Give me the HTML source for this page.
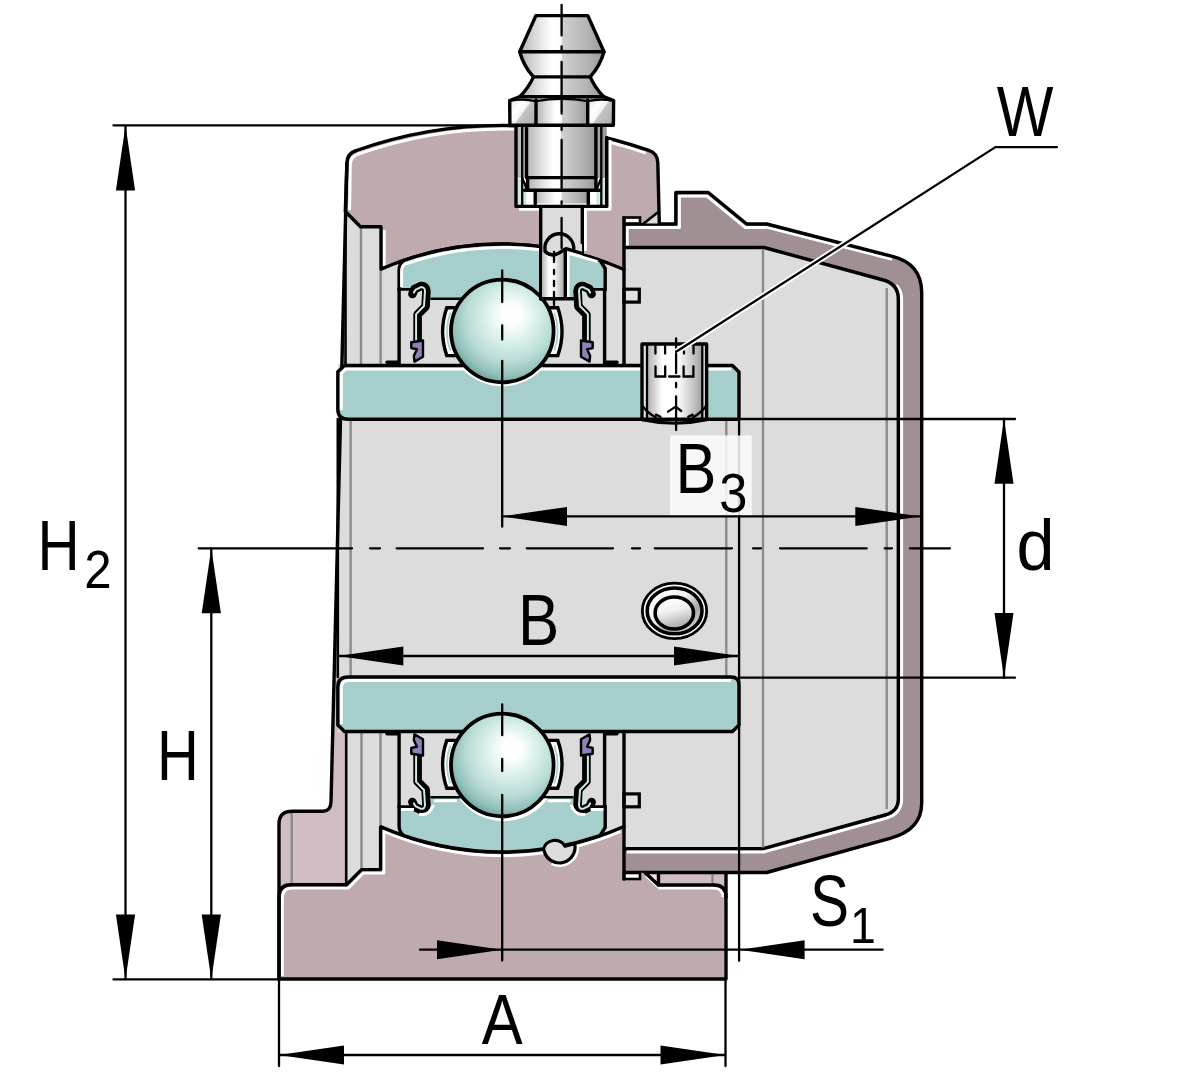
<!DOCTYPE html>
<html lang="en">
<head>
<meta charset="utf-8">
<title>Bearing unit dimensions</title>
<style>
html,body{margin:0;padding:0;background:#fff;}
body{width:1200px;height:1082px;overflow:hidden;}
svg{display:block;}
text{font-family:"Liberation Sans",sans-serif;fill:#000;}
.k{stroke:#000;stroke-width:3.4;fill:none;stroke-linejoin:round;stroke-linecap:round;}
.k2{stroke:#000;stroke-width:2.6;fill:none;stroke-linejoin:round;stroke-linecap:round;}
.d{stroke:#000;stroke-width:2.3;fill:none;stroke-linecap:round;}
.g{stroke:#8a8a8a;stroke-width:2.4;fill:none;}
.w{stroke:#fff;stroke-width:3;fill:none;stroke-linejoin:round;}
.ar{fill:#000;stroke:none;}
</style>
</head>
<body>
<svg width="1200" height="1082" viewBox="0 0 1200 1082">
<defs>
<radialGradient id="ball" cx="0.56" cy="0.40" r="0.62" fx="0.60" fy="0.33">
<stop offset="0" stop-color="#ffffff"/>
<stop offset="0.14" stop-color="#ffffff"/>
<stop offset="0.4" stop-color="#dbf0eb"/>
<stop offset="0.68" stop-color="#b9dbd6"/>
<stop offset="0.88" stop-color="#92c0b9"/>
<stop offset="1" stop-color="#68a099"/>
</radialGradient>
<linearGradient id="cyl" x1="0" x2="1" y1="0" y2="0">
<stop offset="0" stop-color="#b2b2b2"/>
<stop offset="0.2" stop-color="#dedede"/>
<stop offset="0.38" stop-color="#ffffff"/>
<stop offset="0.49" stop-color="#fbfbfb"/>
<stop offset="0.51" stop-color="#cfcfcf"/>
<stop offset="0.8" stop-color="#b4b4b4"/>
<stop offset="1" stop-color="#989898"/>
</linearGradient>
<linearGradient id="cyl2" x1="0" x2="1" y1="0" y2="0">
<stop offset="0" stop-color="#b5b5b5"/>
<stop offset="0.3" stop-color="#ffffff"/>
<stop offset="0.55" stop-color="#f2f2f2"/>
<stop offset="1" stop-color="#a0a0a0"/>
</linearGradient>
<linearGradient id="dimple" x1="0.35" x2="0.65" y1="0" y2="1">
<stop offset="0" stop-color="#ffffff"/>
<stop offset="0.4" stop-color="#f2f2f2"/>
<stop offset="1" stop-color="#a2a2a2"/>
</linearGradient>
<linearGradient id="scr" x1="0" x2="1" y1="0" y2="0">
<stop offset="0" stop-color="#adadad"/>
<stop offset="0.28" stop-color="#ffffff"/>
<stop offset="0.55" stop-color="#ffffff"/>
<stop offset="0.85" stop-color="#c2c2c2"/>
<stop offset="1" stop-color="#9e9e9e"/>
</linearGradient>
<linearGradient id="hexs" x1="0" x2="1" y1="0" y2="0.7">
<stop offset="0" stop-color="#e2e2e2"/>
<stop offset="0.35" stop-color="#ffffff"/>
<stop offset="0.55" stop-color="#f4f4f4"/>
<stop offset="0.6" stop-color="#c4c4c4"/>
<stop offset="1" stop-color="#b0b0b0"/>
</linearGradient>
<linearGradient id="dimple2" x1="0.15" x2="0.85" y1="0.15" y2="0.85">
<stop offset="0" stop-color="#ffffff"/>
<stop offset="0.4" stop-color="#f0f0f0"/>
<stop offset="0.75" stop-color="#a6a6a6"/>
<stop offset="1" stop-color="#d0d0d0"/>
</linearGradient>
</defs>
<rect x="0" y="0" width="1200" height="1082" fill="#fff"/>

<!-- LAYER: housing back (light pink) -->
<g id="housing-back">
<path d="M279,900 L279,824 Q279,811.2 292,811.2 L323,811.2 Q330.6,811.2 331,802 L345.3,211.5 L350,211.5 L350,900 Z" fill="#d0bdc3"/>
<path class="g" d="M291.7,812 L291.7,884"/>
<path d="M645,872.5 L658.5,872.5 L658.5,885 Z" fill="#ece4e6"/>
<rect x="658.5" y="870" width="67.5" height="22" fill="#d0bdc3"/>
<path class="g" d="M712.5,873 L712.5,885" stroke-width="2.4"/>
</g>

<!-- LAYER: cap -->
<g id="cap">
<path d="M624,224 L675.8,224 L675.8,192.5 L708.3,192.5 L746.7,224 L766.7,224 L893.3,256.7 Q921.7,264 921.7,293 L921.7,803 Q921.7,830 890,838.3 L766.7,872.5 L624,872.5 Z" fill="#a08f93"/>
<path class="w" d="M627.2,246 L627.2,227.6 L679.4,227.6 L679.4,196.1 L707,196.1 L745.4,227.6 L766.3,227.6" stroke-width="3.2"/>
<path class="w" d="M766.3,227 L892,259.2" stroke-width="1.6"/>
<path class="k" d="M624,224 L675.8,224 L675.8,192.5 L708.3,192.5 L746.7,224 L766.7,224 L893.3,256.7 Q921.7,264 921.7,293 L921.7,803 Q921.7,830 890,838.3 L766.7,872.5 L624,872.5"/>
</g>

<!-- LAYER: grey interior -->
<g id="interior">
<path d="M345.3,211.5 L360.5,226.8 L381,226.8 L381,240 L624,240 L624,247.5 L764,247.5 L883.3,280 Q898.3,284 898.3,299 L898.3,799 Q898.3,811.5 885,815 L763.3,848.7 L624,848.7 L624,856 L381,856 L381,869.6 L361.5,869.6 L346.5,884.8 L346,884.8 L346,732 L338,732 L338,364 L341.3,364 Z" fill="#dcdcdc"/>
<path d="M644,223.5 L657,213 L659.5,223.5 Z" fill="#dcdcdc"/>
<path class="w" d="M766,851.3 L886,818.2 Q901.6,814 901.6,799 L901.6,299 Q901.6,290 896,285" stroke-width="2.8"/>
<path class="k" d="M624,247.5 L764,247.5 L883.3,280 Q898.3,284 898.3,299 L898.3,799 Q898.3,811.5 885,815 L763.3,848.7 L624,848.7"/>
<path class="w" d="M627,852 L763.6,852 L766,851.3" stroke-width="2.8"/>
<path class="g" d="M763,249 L763,847.5"/>
<path class="g" d="M886.7,288 L886.7,809" stroke-width="2"/>
<path class="g" d="M726.3,421 L726.3,676"/>
<path class="g" d="M350.6,421 L350.6,676"/>
<path class="g" d="M361,228 L361,364 M380.6,270 L380.6,364" />
<path class="g" d="M361.5,732 L361.5,869 M380.5,732 L380.5,826" />
</g>

<!-- LAYER: housing section -->
<g id="housing-section">
<path id="hs-top" d="M345.3,211.5 L346.9,163 Q347.3,153 356.4,150.5 A439 439 0 0 1 648.7,150.4 Q657.5,153 657.8,163 L659,213 L644,223 L640,223 L640,217.5 L624,217.5 L624,269.5 A304 304 0 0 0 381,269.1 L381,226.8 L360.5,226.8 Z" fill="#bfaaae"/>
<path class="w" d="M349.6,210 L350.3,164 Q350.6,156.6 358.4,154 A435.7 435.7 0 0 1 514.2,129"/>
<path class="w" d="M384.2,266 L384.2,230"/>
<path class="w" d="M610,142.3 A435.7 435.7 0 0 1 646,153.1"/>
<path class="w" d="M585.4,210 L585.4,251" stroke-width="2.6"/>
<path class="k" d="M345.3,211.5 L346.9,163 Q347.3,153 356.4,150.5 A439 439 0 0 1 648.7,150.4 Q657.5,153 657.8,163 L659.3,223.5 M624,269.5 A304 304 0 0 0 381,269.1 L381,226.8 L360.5,226.8 L345.3,211.5"/>
<path id="hs-bot" d="M380.6,826.9 A304 304 0 0 0 624,826.5 L624,879 L640,879 L640,873 L645,872.5 L658.3,885 L714,885 Q726,885 726,897 L726,979 L279,979 L279,897 Q279,884.8 291,884.8 L346.5,884.8 L361.5,869.6 L380.6,869.6 Z" fill="#bfaaae"/>
<path class="w" d="M282.3,976 L282.3,898 Q282.3,888 292,888 L348.3,888 L363.3,873 L383.8,873 L383.8,831.4 A300.8 300.8 0 0 0 620.6,831.4"/>
<path class="w" d="M646,875.5 L659.5,888 L714,888 Q723,888 723,897"/>
<path class="k" d="M381,826.9 A304 304 0 0 0 624,826.5 M645,872.5 L658.3,885 L714,885 Q726,885 726,897 L726,979 L279,979 L279,898 M279,897 Q279,884.8 291,884.8 L346.5,884.8 L361.5,869.6 L380.6,869.6 L380.6,826.9"/>
<path class="k" d="M279,979 L279,824 Q279,811.2 292,811.2 L323,811.2 Q330.6,811.2 331,802 L346.9,163"/>
<path class="k2" d="M346.2,732 L346.2,884.8" stroke-width="3.2"/>
<path class="k2" d="M337.8,419 L337.8,677" stroke-width="3"/>
<path class="k2" d="M345.5,212 L345.5,365" stroke-width="3"/>
<path class="k" d="M726,897 L726,873"/>
<path class="k" d="M658.5,873 L658.5,885" stroke-width="2.6"/>
</g>

<!-- LAYER: bearing -->
<g id="bearing">
<defs>
<clipPath id="cu"><rect x="338" y="367.2" width="402" height="52"/></clipPath>
<clipPath id="cl"><rect x="338" y="677" width="402" height="54"/></clipPath>
<g id="ub">
<path d="M398.3,288 L398.3,270 Q398.3,263.8 404,260.3 A304 304 0 0 1 600,260.3 L605.7,268.5 L605.7,288 L591.5,288 L590.5,284 Q585,279 579,284 L574,299 L430,299 L425,284 Q419,279 413.5,284 L412.5,288 Z" fill="#a6cecc"/>
<path class="k" d="M399.1,290 L399.1,270 Q399.1,263.8 404,260.3 A304 304 0 0 1 600,260.3 L605.2,268.5 L605.2,290"/>
<path class="k" d="M399.1,289 L399.1,364" stroke-width="3.8" stroke-linecap="butt"/>
<path class="k" d="M604.6,289 L604.6,364" stroke-width="5" stroke-linecap="butt"/>
<path class="k" d="M387,362.3 L398.3,362.3 M605.7,362.3 L617,362.3" stroke-width="2.4"/>
<path class="k2" d="M399,289.4 L413.5,289.4 M605.2,289.4 L590.8,289.4" stroke-width="3.2"/>
<path class="k2" d="M431.5,298.8 L462,298.8 M542,298.8 L572.5,298.8" stroke-width="3.2"/>
<!-- cage -->
<path d="M460,307.8 L446.8,307.8 Q438.4,331.7 446.8,355.6 L460,355.6 Z" fill="#fff" stroke="#000" stroke-width="3.4" stroke-linejoin="miter"/>
<path d="M544.6,307.8 L557.8,307.8 Q566.2,331.7 557.8,355.6 L544.6,355.6 Z" fill="#fff" stroke="#000" stroke-width="3.4" stroke-linejoin="miter"/>
<path d="M450.3,312.5 A56.5 56.5 0 0 0 450.3,350.5" fill="none" stroke="#a9d2cf" stroke-width="1.8"/>
<path d="M554.3,312.5 A56.5 56.5 0 0 1 554.3,350.5" fill="none" stroke="#a9d2cf" stroke-width="1.8"/>
<!-- seals -->
<g id="seal">
<path d="M417.6,341 L417.6,314.6 L425.6,306.4 L426.4,291 Q426,285.6 421,286 L414.6,289 L412.4,294" fill="none" stroke="#000" stroke-width="8.6" stroke-linejoin="round" stroke-linecap="round"/>
<path d="M416.1,341 L416.1,314.1 L424,306 L425,291 Q424.6,286.6 421,287.2 L415.4,289.9 L413.9,292.6" fill="none" stroke="#cdeae6" stroke-width="2" stroke-linejoin="round" stroke-linecap="round"/>
<path d="M414.4,361.6 L423,356.8 L423,340.5 L411.3,342.3 L411.3,348.1 L416.9,349.2 L413.9,355.8 Z" fill="#9080b8" stroke="#000" stroke-width="2.4" stroke-linejoin="round"/>
</g>
<use href="#seal" transform="translate(1004,0) scale(-1,1)"/>
</g>
</defs>
<!-- inner rings -->
<path d="M344.5,365.5 L732.5,365.5 L739,372 L739,411 Q739,419.2 731,419.2 L348,419.2 Q337.8,419.2 337.8,409 L337.8,371.7 Z" fill="#a6cecc"/>
<path class="w" d="M341.3,410 L341.3,373.2 L346,368.9 L731,368.9"/>
<circle cx="502.3" cy="331" r="55.3" fill="#fff" clip-path="url(#cu)"/>
<path class="k" d="M344.5,365.5 L732.5,365.5 L739,372 L739,419.2 L348,419.2 Q337.8,419.2 337.8,409 L337.8,371.7 Z"/>
<path d="M348,677 L731,677 Q739,677 739,685 L739,725 L732.5,731.5 L344.5,731.5 L337.8,725 L337.8,687 Q337.8,677 348,677 Z" fill="#a6cecc"/>
<path class="w" d="M341.3,724 L341.3,688 Q341.3,680.4 348.5,680.4 L731,680.4"/>
<path class="k" d="M348,677 L731,677 Q739,677 739,685 L739,725 L732.5,731.5 L344.5,731.5 L337.8,725 L337.8,687 Q337.8,677 348,677 Z"/>
<use href="#ub"/>
<use href="#ub" transform="translate(0,1096) scale(1,-1)"/>
<clipPath id="clo"><rect x="401" y="798.6" width="203" height="60"/></clipPath>
<circle cx="503.6" cy="766.6" r="54.6" fill="#fff" clip-path="url(#clo)"/>
<path class="w" d="M434,800.7 L457,800.7 M547.6,800.7 L570.6,800.7" stroke-width="4.2"/>
<path class="w" d="M419,814.2 Q429,816.5 433.6,805 M585.6,814.2 Q575.6,816.5 571,805" stroke-width="3"/>
<path class="w" d="M401.2,809.6 L414,809.6 M590.6,809.6 L603.4,809.6" stroke-width="3.8"/>
<path class="w" d="M401.6,287 L401.6,271 Q401.6,266 405,264 A300.6 300.6 0 0 1 540,249.8"/>
<!-- balls -->
<circle cx="502.3" cy="331" r="51.3" fill="url(#ball)" stroke="#000" stroke-width="3.8"/>
<circle cx="502.3" cy="765" r="51.3" fill="url(#ball)" stroke="#000" stroke-width="3.8"/>
</g>

<!-- LAYER: nipple -->
<g id="nipple">
<!-- channel -->
<rect x="540.7" y="206" width="41.6" height="50" fill="#dcdcdc"/>
<path class="k" d="M540.7,206.4 L540.7,299 M582.3,206.4 L582.3,253.5"/>
<!-- hole in outer ring -->
<rect x="542" y="252" width="23.5" height="47" fill="url(#cyl2)"/>
<rect x="565.3" y="252" width="4.2" height="45.5" fill="#fff"/>
<path class="k" d="M565.3,251 L565.3,298.8 M540.7,298.8 L573,298.8" stroke-width="3.2"/>
<path d="M543,246 Q548,256 559,252.5 L566,249 L582,253 L582,244 L543,240 Z" fill="#dcdcdc"/>
<path class="k" d="M545.3,251.5 A14.4 14.4 0 1 1 573.6,250" stroke-width="2.8"/>
<path class="k" d="M545.3,251.5 Q551,257.5 559,253 L566,248.6 L582.3,253.7" stroke-width="2.8"/>
<path class="w" d="M569,253.2 L597.5,261.6" stroke-width="2.2"/>
<!-- threaded hole -->
<rect x="516" y="125" width="90.7" height="81.4" fill="#fff"/>
<rect x="516" y="125" width="90.7" height="53" fill="url(#cyl)"/>
<rect x="517.5" y="179" width="4" height="26" fill="#cfe6e2"/><rect x="523" y="186" width="3.4" height="19" fill="#cfe6e2"/>
<rect x="601.3" y="179" width="4" height="26" fill="#cfe6e2"/><rect x="596.3" y="186" width="3.4" height="19" fill="#cfe6e2"/>
<path class="w" d="M519,209.3 L539,209.3 M584,209.3 L610,209.3 L610,140" stroke-width="2"/>
<path class="d" d="M522.2,125 L522.2,205 M601.3,125 L601.3,205" stroke-width="1.3"/>
<path class="d" d="M522.2,178 L527.5,190.5 M601.3,178 L596,190.5" stroke-width="1.6"/>
<path class="k" d="M516,125 L516,206.4 L606.7,206.4 L606.7,137.5"/>
<!-- body -->
<rect x="526.5" y="125" width="69.4" height="52.2" fill="url(#cyl)"/>
<rect x="527.6" y="178" width="68.3" height="11" fill="url(#cyl)"/>
<rect x="535.2" y="191.5" width="53.1" height="12" fill="url(#cyl)"/>
<path class="k" d="M526.5,125 L526.5,177.6 L595.9,177.6 L595.9,125" stroke-width="2.8"/>
<path class="k" d="M527.6,178 L527.6,190.2 M595.9,178 L595.9,190.2 M524.4,190.2 L599.7,190.2" stroke-width="2.6"/>
<path class="k" d="M535.2,191 L535.2,204 M588.3,191 L588.3,204" stroke-width="2.4"/>
<!-- hex -->
<path d="M509.9,125.2 L509.7,100.5 L520,96.5 L603.5,96.5 L613.6,100.5 L613.4,125.2 Z" fill="url(#cyl)"/>
<path d="M509.9,125.2 L509.8,101 Q522,98.2 536,101.2 L536,125.2 Z" fill="url(#hexs)"/>
<path d="M587.7,125.2 L587.7,101.2 Q601,98.2 613.5,101 L613.4,125.2 Z" fill="url(#hexs)"/>
<path d="M536,125.2 L536,102 Q561.7,96 587.7,102 L587.7,125.2 Z" fill="url(#cyl)"/>
<path class="d" d="M509.8,101 Q522,98.2 536,101.2 Q561.7,96.4 587.7,101.2 Q601,98.2 613.5,101" stroke-width="2.6"/>
<path class="k" d="M536,100 L536,125.2 M587.7,100 L587.7,125.2" stroke-width="3.4"/>
<!-- flare + head -->
<path d="M533.5,76.9 L590.2,76.9 Q595,88 603.5,96.5 L520,96.5 Q528.5,88 533.5,76.9 Z" fill="url(#cyl)"/>
<path d="M535.9,15.6 L587.8,15.6 L604,51.7 Q600,66 590.2,76.9 L533.5,76.9 Q523.5,66 519.7,51.7 Z" fill="url(#cyl)"/>
<path class="k" d="M535.9,15.6 L587.8,15.6 L604,51.7 Q600,66 590.2,76.9 Q595,88 603.5,96.5 L613.6,100.5 L613.4,125.2 L509.9,125.2 L509.7,100.5 L520,96.5 Q528.5,88 533.5,76.9 Q523.5,66 519.7,51.7 Z" stroke-width="3.4"/>
<path class="k" d="M519.7,51.7 L604,51.7 M533.5,76.9 L590.2,76.9 M520,96.8 L603.5,96.8" stroke-width="3.4"/>
<!-- centre line -->
<path class="d" d="M561.6,4.8 L561.6,35.4 M561.6,46.3 L561.6,49.9 M561.6,62 L561.6,113.5 M561.6,126.5 L561.6,130 M561.6,139.8 L561.6,188 M561.6,201.5 L561.6,204 M561.6,218 L561.6,248" stroke-width="2.4"/>
<path class="d" d="M554,252 L554,262 M554,270 L554,274 M554,281 L554,286 M554,292 L554,305" stroke-width="1.6"/>
</g>

<!-- LAYER: screw -->
<g id="screw">
<path d="M642,344 L706.6,344 L706.6,419 Q676,426 642,419 Z" fill="#e4e4e4"/>
<path d="M647,344 L702.3,344 L702.3,419 Q676,425 647,419 Z" fill="url(#scr)"/>
<path class="d" d="M647,345 L647,418 M702.3,345 L702.3,418" stroke-width="1.9"/>
<path class="d" d="M655.4,346.5 L655.4,353.6 M665.1,346.5 L665.1,353.6 M684,346.5 L684,348.6 M684,351.4 L684,353.6 M693.5,346.5 L693.5,353.6" stroke-width="2.3"/>
<path class="d" d="M655.5,366.5 L655.5,376.5 L665.2,376.5 L665.2,366.5 M683.6,366.5 L683.6,376.5 L693.4,376.5 L693.4,366.5 M669,376.5 L679.5,376.5" stroke-width="2.4" stroke-linecap="butt" stroke-linejoin="miter"/>
<path class="d" d="M668,411.6 L675.8,406.6 L681.2,411" stroke-width="2.4"/>
<path class="d" d="M642.5,406 Q647,412.5 656,417.5 M706,406 Q701.6,412.5 692.6,417.5 M656,414.6 L660.4,416.8 M692.6,414.6 L688.2,416.8" stroke-width="2.6"/>
<path class="k" d="M642,419 L642,344 L706.6,344 L706.6,419" stroke-width="3.3"/>
<path class="k" d="M642,419.6 Q675,426.6 706.6,419.6" stroke-width="4.6"/>
<path class="k" d="M642,419.2 L706.6,419.2" stroke-width="3"/>
<path class="d" d="M676.1,338.3 L676.1,350.5 M676.1,353.8 L676.1,373.2 M676.1,383 L676.1,387.3 M676.1,396.5 L676.1,430" stroke-width="2.2"/>
</g>

<!-- LAYER: details -->
<g id="details">
<rect x="624" y="217.5" width="16" height="6" fill="#fff" stroke="#000" stroke-width="2.6"/>
<rect x="624" y="873" width="16" height="6" fill="#fff" stroke="#000" stroke-width="2.6"/>
<rect x="624" y="289.2" width="15.3" height="12.9" fill="#e2e2e2" stroke="#000" stroke-width="3.2"/>
<rect x="624" y="793.9" width="15.3" height="12.9" fill="#e2e2e2" stroke="#000" stroke-width="3.2"/>
<path class="k" d="M624,217.5 L624,364.5 M624,731.7 L624,879" stroke-width="3.6"/>
<path class="k2" d="M644,223.3 L657,213"/>
<path d="M577.5,845.6 A18.2 18.2 0 0 1 551.7,863.7" fill="none" stroke="#fff" stroke-width="3"/>
<path d="M543.5,849.5 A11.5 11 0 0 1 565,846.2 L574.6,843.6 A15.3 15.3 0 0 1 544.2,851 Z" fill="#dcdcdc" stroke="#000" stroke-width="3.2" stroke-linejoin="round"/>
</g>

<!-- LAYER: dims -->
<g id="dims">
<ellipse cx="674.5" cy="610.9" rx="32.2" ry="27.8" fill="#f4f4f4" stroke="#000" stroke-width="2.8"/>
<ellipse cx="674.6" cy="610.9" rx="27.4" ry="22.9" fill="url(#dimple2)" stroke="#000" stroke-width="3.6"/>
<ellipse cx="674.3" cy="613" rx="19.2" ry="16" fill="url(#dimple)" stroke="#000" stroke-width="3.6"/>
<path class="d" d="M113.5,125.4 L505,125.4 M113.5,979.4 L279,979.4 M125.5,125.4 L125.5,979.4 M211.3,548.3 L211.3,979.4"/>
<path class="d" d="M279,979 L279,1066 M725.5,979 L725.5,1066 M279,1055 L725.5,1055"/>
<path class="d" d="M739.1,419 L739.1,960.8" stroke-width="2.8"/>
<rect x="670" y="435.4" width="81.7" height="80.2" fill="#fbfbfb" opacity="0.86"/>
<path class="d" d="M502.2,361 L502.2,526.7 M502.2,795 L502.2,960.5 M502.2,270.5 L502.2,302 M502.2,325.5 L502.2,339.5 M502.2,704.4 L502.2,735.2 M502.2,759 L502.2,771"/>
<path class="d" d="M739,419 L1015,419 M739,677.6 L1015,677.6 M1004,418.7 L1004,678"/>
<path class="d" d="M502,516.4 L920.3,516.4"/>
<path class="d" d="M338.3,656 L739,656"/>
<path class="d" d="M420,949.7 L882.6,949.7"/>
<path class="d" d="M198.7,548.3 L352.0,548.3 M370.0,548.3 L380.0,548.3 M396.7,548.3 L483.0,548.3 M500.0,548.3 L510.0,548.3 M526.7,548.3 L613.0,548.3 M632.0,548.3 L640.0,548.3 M654.7,548.3 L732.0,548.3 M753.0,548.3 L761.0,548.3 M780.0,548.3 L866.7,548.3 M884.7,548.3 L892.0,548.3 M910.0,548.3 L950.0,548.3"/>
<path class="ar" d="M125.5,125.4 L135.1,190.4 L115.9,190.4 Z"/><path class="ar" d="M125.5,979.4 L115.9,914.4 L135.1,914.4 Z"/><path class="ar" d="M211.3,548.3 L220.9,613.3 L201.7,613.3 Z"/><path class="ar" d="M211.3,979.4 L201.7,914.4 L220.9,914.4 Z"/>
<path class="ar" d="M279.0,1055.0 L344.0,1045.5 L344.0,1064.5 Z"/><path class="ar" d="M725.5,1055.0 L660.5,1064.5 L660.5,1045.5 Z"/>
<path class="ar" d="M1004.0,418.7 L1013.5,483.7 L994.5,483.7 Z"/><path class="ar" d="M1004.0,678.0 L994.5,613.0 L1013.5,613.0 Z"/>
<path class="ar" d="M502.0,516.4 L567.0,506.9 L567.0,525.9 Z"/><path class="ar" d="M920.3,516.4 L855.3,525.9 L855.3,506.9 Z"/>
<path class="ar" d="M338.3,656.0 L403.3,646.5 L403.3,665.5 Z"/><path class="ar" d="M739.0,656.0 L674.0,665.5 L674.0,646.5 Z"/>
<path class="ar" d="M502.0,949.7 L437.0,959.2 L437.0,940.2 Z"/><path class="ar" d="M739.6,949.7 L804.6,940.2 L804.6,959.2 Z"/>
<path d="M995.4,147.1 L676.1,351.8" stroke="#fff" stroke-width="6" fill="none"/>
<path class="d" d="M1057,147.1 L995.4,147.1 L676.1,351.8" stroke-linejoin="round"/>
<text transform="translate(37.6,570.0) scale(0.824,1)" font-size="70.9">H</text>
<text transform="translate(84.2,588.1) scale(0.903,1)" font-size="54.4">2</text>
<text transform="translate(156.9,780.2) scale(0.816,1)" font-size="70.9">H</text>
<text transform="translate(481.8,1044.0) scale(0.864,1)" font-size="71.0">A</text>
<text transform="translate(517.9,645.0) scale(0.868,1)" font-size="71.3">B</text>
<text transform="translate(675.5,492.5) scale(0.868,1)" font-size="70.7">B</text>
<text transform="translate(719.2,511.5) scale(0.915,1)" font-size="55.2">3</text>
<text transform="translate(996.7,136.1) scale(0.846,1)" font-size="71.0">W</text>
<text transform="translate(1016.5,570.1) scale(0.957,1)" font-size="71.5">d</text>
<text transform="translate(810.0,925.5) scale(0.811,1)" font-size="72.2">S</text>
<text transform="translate(849.9,942.9) scale(0.915,1)" font-size="50.8" font-family="DejaVu Sans, Liberation Sans, sans-serif">1</text>
</g>

</svg>
</body>
</html>
